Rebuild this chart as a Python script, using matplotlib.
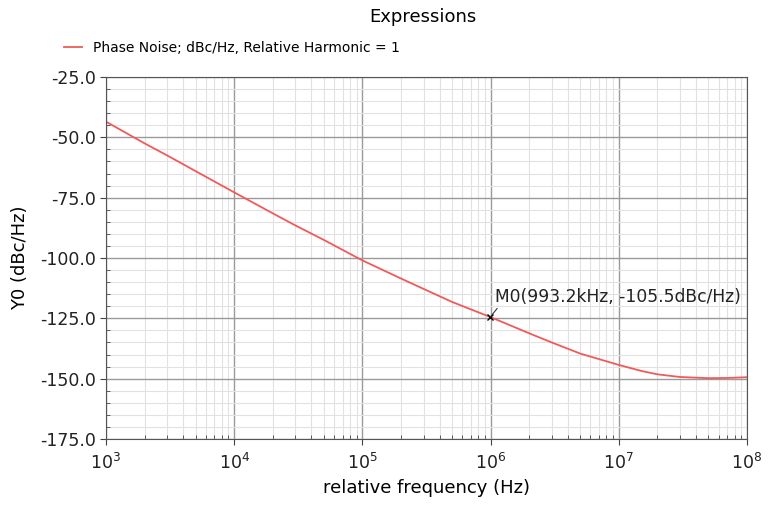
import matplotlib
matplotlib.use("Agg")
import matplotlib.pyplot as plt
from matplotlib.ticker import LogLocator, MultipleLocator, FormatStrFormatter
import numpy as np

# Phase noise curve
freq = [1e3, 2e3, 3e3, 5e3, 1e4, 2e4, 3e4, 5e4, 1e5, 2e5, 3e5, 5e5,
        1e6, 2e6, 3e6, 5e6, 1e7, 1.5e7, 2e7, 3e7, 5e7, 7e7, 1e8]
pnoise = [-43.5, -52.5, -57.5, -64.0, -72.8, -81.5, -86.5, -92.5, -101.0, -108.5, -112.8, -118.2,
          -124.5, -131.2, -135.0, -139.6, -144.3, -146.8, -148.2, -149.3, -149.8, -149.7, -149.4]
marker_x = 993.2e3
marker_y = -124.5
marker_text = "M0(993.2kHz, -105.5dBc/Hz)"

fig = plt.figure(figsize=(7.68, 5.08), dpi=100)
ax = fig.add_axes([106 / 768, 1 - 439 / 508, 641 / 768, 362 / 508])

ax.plot(freq, pnoise, color="#f05a5a", lw=1.3,
        label="Phase Noise; dBc/Hz, Relative Harmonic = 1")
ax.plot([marker_x], [marker_y], marker="x", color="black", ms=4, mew=1)
ax.annotate(marker_text, xy=(marker_x, marker_y), xytext=(1.08e6, -116),
            fontsize=12.3, color="#222222", va="center",
            arrowprops=dict(arrowstyle="-", color="#333333", lw=0.8,
                            shrinkA=0, shrinkB=0, relpos=(0.03, 0.2)))

ax.set_xscale("log")
ax.set_xlim(1e3, 1e8)
ax.set_ylim(-175, -25)
ax.yaxis.set_major_locator(MultipleLocator(25))
ax.yaxis.set_minor_locator(MultipleLocator(5))
ax.yaxis.set_major_formatter(FormatStrFormatter("%.1f"))
ax.xaxis.set_major_locator(LogLocator(base=10))
ax.xaxis.set_minor_locator(LogLocator(base=10, subs=np.arange(2, 10)))

ax.grid(which="major", color="#9a9a9a", lw=1.0)
ax.grid(which="minor", color="#e2e2e2", lw=0.8)
ax.set_axisbelow(True)
ax.tick_params(which="major", direction="out", length=4, labelsize=12.5,
               color="#444444", labelcolor="#222222")
ax.tick_params(which="minor", direction="in", length=3, color="#444444")
ax.tick_params(axis="x", pad=6)
for s in ax.spines.values():
    s.set_color("#555555")

ax.set_xlabel("relative frequency (Hz)", fontsize=13)
ax.set_ylabel("Y0 (dBc/Hz)", fontsize=13, labelpad=8)
fig.text(423 / 768, 1 - 17 / 508, "Expressions", ha="center", va="center", fontsize=13)
fig.legend(loc="upper left", bbox_to_anchor=(58 / 768, 1 - 35 / 508), frameon=False,
           fontsize=10, handlelength=1.3, borderaxespad=0)

fig.savefig("out.png", dpi=100)
